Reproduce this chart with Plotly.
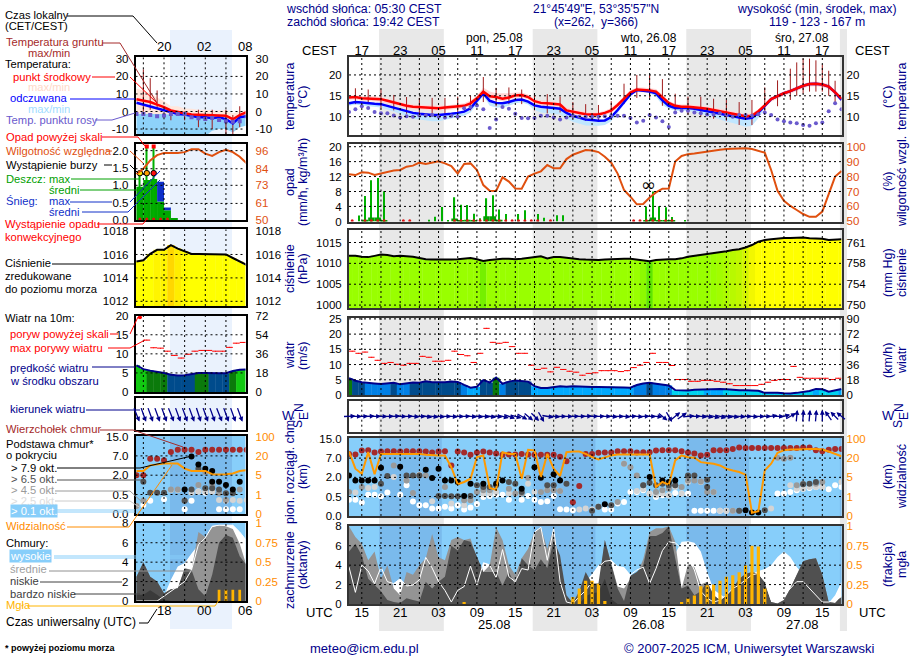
import math
import plotly.graph_objects as go

# ---- hours are counted from 24.08 00 UTC ----
hours = list(range(13, 91))
half_hours = [h + 0.5 for h in range(13, 90)]
left_hours = list(range(14, 31))

# --------------------------
# main panel data
# --------------------------
temp_mid = [14.6,14.7,14.4,14.3,14.3,14.2,13.8,13.4,13.0,12.6,
            12.4,12.3,12.2,12.1,12.0,12.2,12.3,12.5,12.6,13.2,
            14.4,16.0,14.9,14.7,14.3,14.6,15.1,15.2,14.7,13.7,
            13.3,13.2,13.0,12.9,11.5,11.2,10.9,10.6,10.5,10.5,
            10.9,11.5,12.8,14.3,15.8,16.5,16.4,16.3,16.0,14.7,
            13.3,12.6,12.4,12.4,12.3,12.1,11.9,11.6,11.3,11.0,
            10.8,10.4,10.1,10.2,11.3,12.7,14.2,14.9,15.6,16.1,
            16.7,17.4,17.8,17.9,17.7,17.2,15.8,14.3]
temp_max = [15.1,15.1,15.0,14.9,14.9,14.7,14.3,13.9,13.4,13.1,
            12.9,12.8,12.7,12.6,12.6,12.7,12.8,13.0,13.2,13.9,
            15.0,17.0,16.0,15.6,15.6,15.6,15.8,15.8,15.3,14.3,
            13.9,13.8,13.6,13.4,12.2,11.8,11.4,11.1,11.0,11.0,
            11.4,12.1,13.4,14.9,16.4,17.0,17.0,16.8,16.6,15.3,
            13.8,13.1,12.9,12.9,12.8,12.6,12.4,12.2,11.9,11.6,
            11.3,11.0,10.7,10.8,11.8,13.2,14.7,15.4,16.1,16.6,
            17.2,17.9,18.3,18.4,18.2,17.8,16.4,14.9]
temp_min = [14.0,14.1,13.8,13.7,13.7,13.6,13.2,12.8,12.4,12.0,
            11.8,11.7,11.6,11.5,11.4,11.6,11.7,11.9,12.0,12.6,
            13.8,15.3,14.2,14.0,13.7,14.0,14.5,14.6,14.1,13.1,
            12.7,12.6,12.4,12.3,10.9,10.6,10.3,10.0,9.9,9.9,
            10.3,10.9,12.2,13.7,15.2,15.9,15.8,15.7,15.4,14.1,
            12.7,12.0,11.8,11.8,11.7,11.5,11.3,11.0,10.7,10.4,
            10.1,9.7,9.4,9.5,10.6,12.1,13.6,14.3,15.0,15.5,
            16.1,16.8,17.2,17.3,17.1,16.6,15.2,13.6]
feels = [13.2,13.5,13.4,13.2,13.1,13.0,12.6,12.2,11.7,11.3,
         10.9,10.7,10.5,10.4,10.4,10.5,10.7,10.9,11.2,12.0,
         13.7,15.6,13.8,13.3,13.2,13.5,14.0,14.1,13.6,12.7,
         12.4,12.3,12.1,11.9,10.9,10.2,9.7,9.3,9.2,9.0,
         9.1,9.9,11.6,13.5,15.3,16.4,16.2,16.0,15.6,13.9,
         12.6,12.1,12.1,12.1,11.9,11.6,11.4,11.1,10.8,10.5,
         10.2,9.9,9.5,9.7,11.0,12.6,14.2,14.9,15.6,16.1,
         16.7,17.4,17.8,17.9,17.7,17.2,15.8,14.0]
feels_min = [12.6,12.9,12.7,12.5,12.3,12.2,11.7,11.2,10.7,10.1,
             9.6,9.3,9.1,8.9,8.9,9.2,9.5,9.8,10.2,11.0,
             13.0,15.0,12.6,12.2,12.2,12.6,13.2,13.4,12.9,11.6,
             11.0,10.9,10.7,10.5,9.5,8.8,8.3,7.9,7.8,7.8,
             8.0,8.9,10.9,13.0,15.0,16.2,16.0,15.6,14.8,12.8,
             11.9,11.4,11.4,11.4,11.1,10.7,10.3,9.9,9.3,8.8,
             8.5,8.0,7.6,7.8,9.6,12.0,14.0,14.9,15.6,16.1,
             16.7,17.4,17.8,17.9,17.7,17.2,15.8,13.8]
dew = [11.1,11.8,12.5,12.1,11.1,10.8,10.8,10.3,9.8,10.1,
       10.0,10.3,10.3,10.4,10.0,9.8,10.2,10.0,12.0,12.3,
       12.7,11.8,7.3,9.3,12.3,11.9,10.7,9.7,9.6,9.7,
       10.2,10.2,9.8,9.3,9.8,10.2,10.0,10.0,10.0,10.0,
       10.1,10.2,10.2,10.2,9.7,8.6,9.0,10.4,9.8,8.9,
       7.5,11.0,11.4,11.4,11.0,10.8,10.5,10.5,10.8,10.4,
       10.0,10.4,10.4,10.2,10.6,11.0,10.4,9.3,8.9,8.6,
       8.4,8.0,7.8,8.4,8.6,11.3,13.2,11.8]
ground_hours = [14,16,18,20,22,24,26,28,30,32,34,36,38,40,42,44,46,48,50,52,54,56,58,60,
                62,64,66,68,70,72,74,76,78,80,82,83,84,85,86,87,88,89]
ground_max = [16.8,16.5,16.5,15.2,14.7,14.5,14.5,14.5,14.8,15.0,19.5,16.9,17.0,16.5,15.5,15.4,14.8,13.5,13.0,12.8,
              13.7,17.9,20.0,20.0,19.0,15.5,14.8,14.8,14.3,14.0,13.5,14.0,17.0,18.7,21.5,23.0,23.9,23.9,23.5,22.5,21.0,18.6]
ground_min = [13.0,13.0,12.0,11.5,10.7,10.5,10.3,10.5,10.7,11.5,13.5,12.5,13.0,13.0,11.5,10.8,11.0,9.5,9.0,9.0,
              9.5,13.0,14.5,14.5,12.6,11.5,10.5,10.0,9.5,9.0,8.0,8.0,11.0,12.5,14.0,15.0,15.5,16.0,16.0,16.0,15.0,13.0]

rain_max_hours = [14.5,15.5,16.5,17.5,18.5,25.5,26.5,27.5,28.5,29.5,30.5,31.5,32.5,33.5,34.5,35.5,36.5,37.5,
                  39.5,40.5,42.5,43.5,45.5,46.5,59.5,60.5,61.5,62.5,63.5,65.5]
rain_max = [1.6,6.8,11,11.6,8.1,0.5,1.3,3.9,0.3,6.5,4.5,4.4,2.1,0.9,6.2,7,3.2,2,
            2,3,2,1,1.7,1.7,4,8,4.1,3.8,1.2,0.2]
rain_mean_hours = [15.5,16.5,17.5,18.5,29.5,30.5,31.5,32.5,34.5,35.5,36.5,59.5,60.5,61.5,62.5,63.5]
rain_mean = [0.5,1.1,1.1,0.4,0.8,0.3,0.5,0.2,1.4,1.4,0.5,0.2,1.1,0.3,0.4,0.2]
convective_hours = [13.5,15.5,16.5,17.5,18.5,21.5,22.5,29.5,30.5,31.5,32.5,33.5,34.5,35.5,36.5,37.5,
                    38.5,39.5,40.5,41.5,42.5,44.5,57.5,58.5,59.5,60.5,61.5,62.5,63.5]
humidity = [81.5,81,82.8,82.6,81,82,83.2,84,84.4,86.6,87.3,89.3,88.4,89.5,90.2,88.8,87,82,88.4,88.8,
            84.4,74.3,70.5,70.3,79.5,76.6,72,71.9,80,82,83.5,87.7,85.5,85.5,91.7,94.6,96.4,97.8,97.5,96.4,
            93.3,89.3,82,71,66.5,61.4,61.6,66,69.4,71.9,72,90,93.8,95,95.5,96.2,96.9,97.3,98,98.4,
            98.7,98.9,98.9,98.4,97.3,96,84.4,70.5,63.8,60.3,57.6,54.9,53,53,56.5,68.8,80,83.7]

pressure = [1011.8,1011.8,1011.6,1011.5,1011.8,1012.1,1012.0,1011.7,1011.8,1011.7,
            1011.6,1011.3,1011.0,1010.9,1010.9,1010.8,1010.9,1011.0,1011.1,1011.3,
            1011.0,1010.6,1010.8,1011.0,1011.1,1011.1,1011.0,1011.1,1011.3,1011.5,
            1011.7,1011.2,1011.5,1011.5,1011.3,1011.1,1011.0,1010.9,1010.8,1010.8,
            1010.9,1011.0,1011.1,1011.1,1011.1,1010.9,1010.7,1010.5,1010.8,1010.95,
            1011.0,1011.0,1011.2,1011.6,1011.8,1012.1,1012.2,1012.5,1012.7,1012.9,
            1013.2,1013.4,1013.8,1014.4,1015.2,1015.6,1015.8,1016.0,1016.1,1016.1,
            1016.2,1016.2,1016.0,1015.95,1015.9,1015.6,1015.7,1015.8]

wind = [5.5,4.7,4.2,3.9,3.8,3.6,3.8,4.0,3.5,3.7,4.1,4.0,4.5,4.2,4.1,4.2,4.4,4.3,3.3,2.4,
        2.7,4.9,4.1,5.7,3.7,4.4,4.8,4.7,4.4,2.9,2.3,2.3,2.7,2.9,2.7,2.9,2.8,2.6,2.6,2.6,
        2.6,2.7,2.6,2.5,2.4,3.3,3.8,4.0,3.7,3.5,3.1,1.6,1.5,1.5,1.75,1.8,2.0,2.0,2.0,1.9,
        1.7,1.6,1.6,1.6,1.4,0.7,0.8,0.7,0.55,0.5,0.7,1.1,1.3,2.0,1.9,1.1,1.6,2.0]
gust = [14.4,13.7,14.1,12.4,11.4,10.4,10.7,10.1,9.8,10.4,10.4,12.7,12.4,11.1,11.1,11.4,14.4,13.3,12.9,10.7,
        13.7,21.9,17.3,17,17.3,15.9,13.7,13.7,9.8,8.4,8.8,7.6,9.1,8.4,7.8,7.5,6.5,7.1,7.3,
        8,8,8,7.7,8,9,9.8,10.7,13.7,10.7,10.7,9.7,5.1,5.1,4.5,4.5,4.8,4.8,4.5,4.2,
        3.7,3.1,3.1,3.1,3.1,3.5,4.2,4.8,5.1,5.1,9.4,5.8,5.5,5.5,5.5,5.5,5.1,5.5]
# compass bearing the wind arrow points to
wind_dir = [88,92,90,88,90,92,90,88,92,90,
            95,92,100,98,95,92,95,92,90,95,
            95,95,100,95,105,110,105,120,130,135,
            150,100,95,92,92,90,90,88,90,90,
            92,95,92,95,90,95,90,92,95,130,
            150,50,55,85,90,95,100,105,105,100,
            100,95,92,95,92,90,80,90,75,60,
            5,5,5,5,0,-35,-45,-50]

# cloud heights are kept on the panel's stretched scale: 0, 0.5, 2, 7, 15 km are 0, 1, 2, 3, 4
cloud_top = [3.22,3.19,3.40,3.41,3.29,3.34,3.36,3.36,3.34,3.36,3.36,3.36,3.34,3.29,3.34,3.36,2.62,3.34,3.29,3.17,
             3.29,3.34,3.29,3.24,3.17,3.19,3.19,3.22,3.19,3.17,3.17,3.17,3.17,3.07,2.84,0.71,1.55,3.22,3.22,3.28,
             3.29,3.29,3.36,3.36,3.36,3.29,3.31,3.31,3.40,3.41,3.41,3.41,3.36,3.29,3.24,3.14,3.17,3.41,3.41,3.41,
             3.48,3.55,3.53,3.53,3.53,3.53,3.53,3.53,3.52,3.53,3.53,3.55,3.55,3.41,3.36,3.43,3.48,3.48]
base_79_hours = [13,14,15,16,17,18,21,25,26,27,28,29,30,31,32,34,36,37,40,42,43,45,46,53,60,62,63,64,75,76,77]
base_79 = [2.10,1.84,1.84,1.84,1.84,2.5,2.55,2.4,1.97,2.45,1.84,1.84,1.76,1.03,1.67,1.67,1.67,1.84,1.41,2.53,1.98,2.16,1.84,
           0.6,2.02,1.84,1.76,1.84,0.29,0.17,0.17]
base_65_hours = [18,19,22,23,24,27,28,29,30,32,33,34,35,36,38,39,40,44,45,47,51,52,54,59,60,61,62,63,64,66,67,69,69,74,78,84,85,86]
base_65 = [1.67,2.07,2.1,2.1,2.1,1.03,1.03,1.02,1.02,1.03,1.59,1.5,1.5,1.59,1.76,1.67,1.24,1.59,1.59,1.67,
           0.26,0.47,0.55,1.59,1.72,1.59,1.67,1.59,1.59,2.1,2.1,1.88,1.5,0.26,0.29,1.64,1.67,1.76]
base_45_hours = [13,15,20,22,23,24,25,28,31,32,33,34,35,38,39,40,41,43,44,45,46,52,55,56,57,58,59,61,62,63,64,65,66,67,68,69,70,73,74,80,81,82,83,84,86,87]
base_45 = [1.24,1.5,2.62,1.84,1.19,2.1,2.1,1.5,0.81,0.81,1.24,1.33,1.33,1.41,1.16,1.16,1.98,1.24,1.33,1.33,1.29,
           0.47,0.72,2.71,2.53,2.1,1.59,1.24,1.33,1.41,1.59,1.5,1.84,1.84,1.79,1.24,1.24,0.26,0.26,3.02,2.97,3.02,1.59,1.67,1.67,1.76]
base_25_hours = [14,16,17,20,22,24,26,29,31,32,34,35,36,38,41,42,44,46,49,50,51,52,56,58,59,60,61,62,63,64,65,66,68,70,71,72,73,79,80,82,83,84,85,86,87,90]
base_25 = [1.21,1.45,1.5,2.02,1.84,2.14,0.76,0.64,0.55,0.81,1.16,1.16,1.24,1.16,1.67,1.24,1.36,1.29,0.33,0.38,0.33,0.47,
           2.71,1.29,1.38,1.16,1.07,1.16,1.07,1.5,1.16,1.76,1.76,1.24,0.26,0.26,0.26,0.38,3.02,1.59,1.41,1.41,1.5,1.5,1.5,1.76]
base_01_hours = [13,14,15,16,17,18,19,21,22,23,24,25,26,27,28,29,30,31,32,33,34,35,36,37,38,39,40,41,42,43,44,45,46,47,48,
                 53,54,55,56,57,58,59,60,61,62,63,64,65,66,67,68,69,70,71,72,80,81,82,83,84,85,86,87,88,89,90]
base_01 = [0.84,0.84,0.69,1.1,1.1,1.02,1.21,1.1,1.59,0.74,0.55,0.55,0.38,0.38,0.47,0.38,0.55,0.33,0.43,0.62,0.98,1.03,1.1,1.1,0.84,1.16,0.84,1.03,0.84,0.72,0.76,1.03,0.34,0.33,0.29,
           0.33,0.33,0.64,0.72,1.24,1.24,1.33,1.16,0.98,1.07,1.07,1.19,1.16,1.16,0.26,0.26,0.26,0.26,0.26,0.26,1.16,1.16,1.24,1.33,1.41,1.45,1.5,1.5,1.38,1.59,1.5]
visibility = [3.34,2.45,2.19,3.31,2.16,3.22,3.22,3.22,3.22,3.22,3.22,3.22,3.17,3.14,3.14,3.14,2.53,1.64,1.76,1.93,
              3.05,3.14,1.45,1.36,3.31,3.22,3.22,1.93,3.43,3.40,2.02,3.22,2.45,2.07,3.31,3.34,3.34,3.22,3.05,2.93,
              3.05,3.14,3.19,3.19,3.19,3.19,3.19,3.19,1.5,1.76,1.62,2.88,3.14,3.05,3.02,2.79,2.74,2.71,2.62,2.45,
              2.36,2.28,2.14,0.16,0.24,2.36,2.71,3.28,3.41,3.45,3.45,3.48,3.48,3.48,3.45,3.34,3.22,3.1]

cloud_high = [0,0,0,0,0,0,0,2.1,2.6,1.7,0,0,0,0,0,0,0,0,0,0,
              0,4.3,4.1,0,0,0,0,0,0,0,0,0,0,0,0,0,0.4,2.3,3.1,4.0,
              4.4,4.5,3.9,3.8,3.0,1.8,1.5,1.0,0.5,1.5,3.0,5.2,6.4,6.45,6.3,5.4,3.3,1.5,1.0,0.6,
              0.5,0.6,1.3,3.1,3.4,3.6,4.0,4.85,5.4,4.85,3.8,3.0,2.0,0.9,0.2,0.1,0.9,2.3]
high_line = [3.8,1.2,4,3.4,2.1,3.8,2.3,2.1,2.6,1.85,1.95,2.5,4.8,3.7,2.3,1.4,0.2,1.4,1.8,3.9,
             1.95,4.2,4,2.7,5.6,2.8,2.3,3.65,3.5,7.4,7.9,4.5,7.8,2.3,0.2,0.05,0.75,1.4,2.3,3.8,
             4.4,4.5,3.65,2.3,3,3.5,3.8,2.1,3.65,5.5,6.4,6.3,5.7,4.85,3.5,1.3,0.6,0.2,0.4,0.9,
             1.6,1.95,2.5,3,3.15,2.3,0.4,0.17,0.9,1.6,2.3,2.3,1.6,0.9,0.2,0.2,0.4,0.75]
cloud_mid = [8,6.9,6.2,4.5,5.4,2.6,4,1.6,0.9,3.3,3,4,4.7,7.2,4.8,4.5,6.6,6.9,6.6,6.75,
             4.7,3.3,4,7.9,6.6,4,3,4.7,5.7,7.4,7.9,5.7,7.8,3.3,0.2,0,0,1,1.2,1.2,
             6.6,4.1,1.8,1.6,2.6,3,4.6,7.4,7.8,7.8,8,6.4,1.6,4.1,3.8,2,2.3,0.9,0.4,0.9,
             1.6,2.6,3.1,3.3,3.1,2.3,0.2,0.05,0.4,1.6,3,4.4,4.6,4.7,3,0.2,0.1,0.8]
cloud_low = [5.4,6.2,5,2.6,1.95,1.3,0.4,0.2,0.1,0.6,0.4,0.25,2.3,1.6,2.3,2.8,6,5.5,6.6,6.4,
             4.9,3.3,3.3,3.3,1.9,3.3,1.9,4.7,4,3.5,4.6,3.7,6.6,5,0.9,0.1,1.3,3.3,2.1,2.1,
             6.6,4,1.6,0.3,2.9,3.3,4,7,7,7.3,8,4.7,1.6,1.9,0.9,1.3,2.3,0.9,0.4,0.9,
             1.6,2.6,3.1,3.3,3.1,2.3,0.2,0.05,0.4,1.6,3,4.4,4.6,4.7,3,0.2,0.1,0.8]
cloud_vlow = [0,0,0,0,0,0,0,0,0,0,0,0,0,0,0,0,0,0,0,0,
              0,0,0,0,0,0,0,0,0,0,0,0,0,0,0,0,0,0.8,1.1,1.2,
              2.6,0.5,0,0,0,0,0,0,0,0,0,0,0,0,0,0,0,0,0,0,
              0,0,0,0,0,0,0,0,0,0,0,0,0,0,0,0,0,0]
fog_hours = [31,48,49,50,51,52,53,65,66,67,68,69,70,71,72,73,74,75,76,77,78]
fog = [0.02,0.09,0.2,0.3,0.3,0.26,0.04,0.02,0.07,0.11,0.23,0.24,0.25,0.3,0.35,0.37,0.41,0.5,0.75,0.74,0.2]

# --------------------------
# left (legend) panel data
# --------------------------
left_temp = [7,6.4,5.4,3.9,2.5,0.6,-0.4,-1,-1.7,-1.9,-2.1,-2.3,-2.3,-2.4,-4.4,-2,-0.3]
left_feels = [5,4,3,2,0.6,-0.4,-1.4,-1.7,-2.3,-3.3,-3.3,-3.7,-3.3,-4.3,-6.8,-3.3,-2.7]
left_temp_max = [13,12,10.5,8,6,3,3,1.7,1.5,1,1,0.5,0.5,0.5,-1,0,1]
left_band_mid = [-1.2,-1.2,-1.3,-1.4,-1.4,-1.5,-2,-2,-2.5,-3.3,-3.3,-3.7,-3.3,-4.3,-6.8,-3.3,-2.7]
left_feels_min = [-14,-14,-14,-14,-14,-14,-14,-13,-13,-14,-14,-11,-10,-10,-12,-9,-8]
left_dew = [-1.4,-1.4,-2,-2.7,-2.3,-1.4,-1.4,-1.4,-3.3,-3.9,-4.3,-3.7,-4.9,-5.6,-5.8,-5.6,-2.7]
left_ground_hours = [15,16,17,19,21,23,25,27,28,29]
left_ground_max = [24,19,12,0,0,1,1,1,-2,3]
left_ground_min = [0,1,2,-5,-5,-9,-10,-13,-13,-9]

left_humidity = [80.5,84,89.5,93,94.5,94.5,94.5,95,97,97,94,92.5,95,96.5,95,92,87.6]
left_rain_hours = [14.5,15.5,16.5,17.5,18.5,19.5]
left_rain = [0.96,1.15,1.18,0.53,0.28,0.04]
left_snow = [0,0,0,0.57,0.08,0]
left_rain_max_hours = [14.5,15.5,16.5]
left_rain_max = [1.35,2.12,2.12]
left_over_hours = [15.5,16.5]
left_over = [2.12,2.12]
left_storm_hours = [14.5,15.5,16.5]
left_storm = [1.35,1.35,1.35]
left_convective = [14.5,15.5,16.5,17.5,18.5]

left_pressure = [1015.4,1015.5,1016.05,1016.4,1016.4,1016.8,1016.5,1016.3,1016.05,1016.05,1016.05,1016.05,1016.05,1016,1015.7,1015.4,1015.1]
left_wind = [7,6,5.6,5.3,5.0,4.5,4.3,4.4,4.7,5,5,4.9,4.9,4.9,5.5,5.8,5.9]
left_gust_hours = [15.5,16.5,17.5,18.5,19.5,20.5,21.5,22.5,23.5,24.5,25.5,26.5,27.5,28.5,29.5]
left_gust = [13.6,11.6,11.5,10.7,9.6,8.9,9.9,10.7,10.9,10.9,10.7,10.7,11.7,12.8,13]
left_dir = [158,160,160,160,160,158,160,160,160,162,160,160,158,160,160,160,155]

left_top = [2,2,2.85,2.85,2.77,3.2,3.32,3.32,3.32,3.2,3.32,3.32,3.32,3.32,3.32,3.32,3.32]
left_79_hours = [21,22,23,24,25,25,26,27,28,29]
left_79 = [1.26,2.97,2.56,2.34,2.22,1.66,1.66,1.49,1.26,1.66]
left_65_hours = [15,16,17,18,21,22,23,24,25,26,27,28]
left_65 = [1.66,1.09,1.09,1.09,0.68,1.26,2.34,1.32,1.32,1.26,1.06,1.06]
left_45_hours = [14,15,19,20,21,23,24,25,26,27,29]
left_45 = [0.41,0.68,1.26,1.26,0.68,1.49,2.17,1.49,1.06,0.72,1.26]
left_25_hours = [14,19,20,22,23,24,25,26,27,28,29,30]
left_25 = [0.41,1.23,1.23,1.09,1.15,1.15,1.15,0.72,0.68,0.72,0.68,0.72]
left_01_hours = [15,16,18,21,22,23,24,25,26,27,28,29]
left_01 = [0.46,0.68,0.75,0.24,0.68,1.15,1.09,1.15,0.24,0.24,0.24,0.24]
left_vis = [2.22,2.22,2.51,2.55,2.6,2.6,2.6,2.34,2.22,2.22,2.22,2.05,2.03,2.05,2.09,2.22,2.26]

left_high = [0,0,0,0,0.5,2.2,3.55,3.9,4.9,5.8,6.5,7.7,7.8,7.8,7.8,7.1,6.2]
left_high_line = [0,0,0,0,0.5,1,1.5,2,3.2,5.8,6.5,7.7,7.8,7.8,7.8,7.1,6.2]
left_mid = [2.5,4,2.5,2,0.8,1.2,1.3,3.4,3.2,7.1,6.6,7.6,7.8,7.7,7.4,5.9,3.6]
left_low = [2.5,4,2.5,2,0.8,1.2,1.3,3.3,3.2,1.2,0.5,2.7,6,6.8,6.5,4.6,3.7]
left_vlow = [0.65,0.65,1.1,0.65,0.1,0,0,0,0,0,0,0,0,0,0,0,0]
left_fog_hours = [26,27,28,29]
left_fog = [0.145,0.145,0.145,0.145]

# axis labels
main_grid_hours = list(range(15, 88, 3))
main_label_hours = list(range(15, 88, 6))
cest_labels = ["17","23","05","11"] * 3 + ["17"]
utc_labels = ["15","21","03","09"] * 3 + ["15"]
left_grid_hours = [15, 18, 21, 24, 27]
nights = [(17.7, 27.5), (41.7, 51.5), (65.7, 75.5), (89.7, 90.5)]

NAVY = "#00008b"
FONT = "Liberation Sans"
HUM = "#e0500f"
VIS = "#ff8c00"
CLOUD_BG = "#87cefa"
CLOUD_NIGHT = "#7abaec"
LBL = 11.2


def X(px):
    return px / 910


def Y(px):
    return 1 - px / 660


fig = go.Figure()
layout = {}
shapes = []
notes = []


# one panel = a bottom x axis, a left y axis and an overlaying right y axis
def panel(i, box, xrange, lrange, lticks, ltext, rrange, rticks, rtext, rcolor="black",
          xticks=None, xtext=None, xside="bottom", frame="black", fw=1.5, standoff=(4, 5), size=11.5):
    x0, x1, top, bottom = box
    a = 2 * i - 1
    b = 2 * i
    layout[f"xaxis{i}"] = dict(domain=[X(x0), X(x1)], range=xrange, anchor=f"y{a}", side=xside, automargin=False,
                               showgrid=False, zeroline=False, showline=True, mirror=True,
                               linecolor=frame, linewidth=fw, ticks="",
                               tickmode="array", tickvals=xticks or [], ticktext=xtext or [],
                               showticklabels=bool(xticks), ticklabelstandoff=-5,
                               tickfont=dict(family=FONT, size=13, color="black"))
    layout[f"yaxis{a}"] = dict(domain=[Y(bottom), Y(top)], range=lrange, anchor=f"x{i}", automargin=False,
                               showgrid=False, zeroline=False, showline=True, mirror=True,
                               linecolor=frame, linewidth=fw, ticks="",
                               tickmode="array", tickvals=lticks, ticktext=ltext,
                               ticklabelstandoff=standoff[0],
                               tickfont=dict(family=FONT, size=size, color="black"))
    layout[f"yaxis{b}"] = dict(domain=[Y(bottom), Y(top)], range=rrange, anchor=f"x{i}", automargin=False,
                               overlaying=f"y{a}", side="right", showgrid=False, zeroline=False,
                               showline=False, ticks="", tickmode="array", tickvals=rticks,
                               ticktext=rtext, ticklabelstandoff=standoff[1],
                               tickfont=dict(family=FONT, size=size, color=rcolor))
    return dict(xaxis=f"x{i}", yaxis=f"y{a}"), dict(xaxis=f"x{i}", yaxis=f"y{b}")


def grid(refs, xvals, xspan, yvals, yspan):
    gx, gy = [], []
    for v in xvals:
        gx += [v, v, None]
        gy += [yspan[0], yspan[1], None]
    for v in yvals:
        gx += [xspan[0], xspan[1], None]
        gy += [v, v, None]
    fig.add_trace(go.Scatter(x=gx, y=gy, mode="lines", hoverinfo="skip",
                             line=dict(color="black", width=1, dash="2px,3px"), **refs))


def txt(x, y, s, color="black", size=LBL, anchor="left", angle=0, bg=None):
    notes.append(dict(xref="paper", yref="paper", x=X(x), y=Y(y), text=s, showarrow=False,
                      xanchor=anchor, yanchor="middle", textangle=angle, borderpad=0,
                      bgcolor=bg, font=dict(family=FONT, size=size, color=color)))


def link(points, color, width=1):
    path = "M " + " L ".join(f"{X(px)} {Y(py)}" for px, py in points)
    shapes.append(dict(type="path", xref="paper", yref="paper", path=path,
                       line=dict(color=color, width=width), layer="above"))


def rect(x0, y0, x1, y1, color):
    shapes.append(dict(type="rect", xref="paper", yref="paper", x0=X(x0), x1=X(x1), y0=Y(y0), y1=Y(y1),
                       fillcolor=color, line=dict(width=0), layer="below"))


def wind_color(v):
    if v >= 5.8:
        return "#11c911"
    if v >= 5:
        return "#0b7a0b"
    if v >= 4:
        return "#004b8c"
    if v >= 3:
        return "#0080e6"
    if v >= 2:
        return "#00aaff"
    return "#00d4f0"


pressure_scale = [[0, "#5ee600"], [0.04, "#99ff00"], [0.31, "#99ff00"], [0.45, "#c0f800"],
                  [0.58, "#e6f000"], [0.64, "#ffff00"], [0.9, "#ffff00"], [1, "#ffd000"]]


def pressure_bars(hrs, vals, refs):
    fig.add_trace(go.Bar(x=hrs, y=vals, width=1.05, marker=dict(color=vals, colorscale=pressure_scale,
                  cmin=1010.5, cmax=1016.9, line=dict(width=0)), **refs))
    fig.add_trace(go.Scatter(x=hrs, y=vals, mode="lines", line=dict(color="black", width=2), **refs))


def band(hrs, low, high, color, refs):
    fig.add_trace(go.Scatter(x=hrs, y=low, mode="lines", line=dict(width=0), **refs))
    fig.add_trace(go.Scatter(x=hrs, y=high, mode="lines", line=dict(width=0), fill="tonexty",
                             fillcolor=color, **refs))


def area(hrs, vals, color, refs):
    fig.add_trace(go.Scatter(x=hrs, y=vals, mode="lines", line=dict(width=0, color=color),
                             fill="tozeroy", fillcolor=color, **refs))


def dots(hrs, vals, color, refs, size=6):
    fig.add_trace(go.Scatter(x=hrs, y=vals, mode="markers", marker=dict(color=color, size=size), **refs))


def ticks_bars(hrs, low, high, color, refs, width=1):
    xs, ys = [], []
    for h, a, b in zip(hrs, low, high):
        xs += [h, h, None]
        ys += [a, b, None]
    fig.add_trace(go.Scatter(x=xs, y=ys, mode="lines", line=dict(color=color, width=width), **refs))


def arrows(hrs, bearings, i, length):
    for h, b in zip(hrs, bearings):
        dx = math.sin(math.radians(b))
        dy = math.cos(math.radians(b))
        notes.append(dict(xref=f"x{i}", yref=f"y{2 * i - 1}", x=h, y=0, text="", showarrow=True,
                          xshift=length / 2 * dx, yshift=length / 2 * dy,
                          ax=-length * dx, ay=length * dy,
                          arrowhead=2, arrowsize=0.75, arrowwidth=1.3, arrowcolor=NAVY))


# --------------------------
# background: night bands and cloud panel fill
# --------------------------
def main_px(h):
    return 349 + 6.4 * (h - 13)


for a, b in nights:
    rect(main_px(a), 29, main_px(b) + 2, 631, "#e8e8e8")
rect(170, 30, 232, 629, "#eaf2fd")
for top, bottom in [(438, 516), (526, 604)]:
    rect(349, top, 841.5, bottom, CLOUD_BG)
    for a, b in nights:
        rect(main_px(a), top, min(main_px(b), 841.5), bottom, CLOUD_NIGHT)
for top, bottom in [(436, 514), (523, 601)]:
    rect(135.5, top, 245.5, bottom, CLOUD_BG)
    rect(170, top, 232, bottom, CLOUD_NIGHT)

# --------------------------
# main panels
# --------------------------
MX = [13, 90]
LX = [13.86, 29.84]
MAIN = dict(frame="#333333", fw=2, standoff=(3, 4), size=11.5)
LEFT = dict(frame="black", fw=1.5, standoff=(3, 9), size=11.5)

# temperature
l, r = panel(1, (349, 841.5, 57, 135), MX, [5.6, 24.3], [10, 15, 20], ["10", "15", "20"],
             [5.6, 24.3], [10, 15, 20], ["10", "15", "20"],
             xticks=main_label_hours, xtext=cest_labels, xside="top", **MAIN)
band(hours, feels_min, feels, "#bfe6ff", l)
band(hours, temp_min, temp_max, "#ffd6d6", l)
ticks_bars(ground_hours, ground_min, ground_max, "#a01c1c", l)
fig.add_trace(go.Scatter(x=hours, y=feels, mode="lines", line=dict(color="#0000ff", width=2.5), **l))
fig.add_trace(go.Scatter(x=hours, y=temp_mid, mode="lines", line=dict(color="#ff0000", width=2.5), **l))
dots(hours, dew, "#6a5acd", l, size=4)

# precipitation and humidity
l, r = panel(2, (349, 841.5, 144, 221.5), MX, [0, 20.7], [0, 4, 8, 12, 16, 20],
             ["0", "4", "8", "12", "16", "20"], [49.9, 101.8], [50, 60, 70, 80, 90, 100],
             ["50", "60", "70", "80", "90", "100"], rcolor=HUM, **MAIN)
fig.add_trace(go.Bar(x=rain_max_hours, y=rain_max, width=0.18, marker=dict(color="#00b000", line=dict(width=0)), **l))
fig.add_trace(go.Bar(x=rain_mean_hours, y=rain_mean, width=1, marker=dict(color="#00a000", line=dict(width=0)), **l))
dots(convective_hours, [0.2] * len(convective_hours), "#e01010", l, size=3)
fig.add_trace(go.Scatter(x=hours, y=humidity, mode="lines", line=dict(color=HUM, width=2), **r))
notes.append(dict(xref="x2", yref="y3", x=59.9, y=10, text="∞", showarrow=False,
                  font=dict(family="DejaVu Sans", size=18, color="black")))

# pressure (the right axis only relabels the same ticks in mm Hg)
l, r = panel(3, (349, 841.5, 230, 308), MX, [999.3, 1018], [1000, 1005, 1010, 1015],
             ["1000", "1005", "1010", "1015"], [999.3, 1018], [1000, 1005, 1010, 1015],
             ["750", "754", "758", "761"], **MAIN)
pressure_bars(hours, pressure, l)

# wind
l, r = panel(4, (349, 841.5, 317.7, 395), MX, [0, 25.4], [0, 5, 10, 15, 20, 25],
             ["0", "5", "10", "15", "20", "25"], [0, 91.4], [0, 18, 36, 54, 72, 90],
             ["0", "18", "36", "54", "72", "90"], **MAIN)
fig.add_trace(go.Bar(x=hours, y=wind, width=1.05, marker=dict(color=[wind_color(v) for v in wind], line=dict(width=0)), **l))
fig.add_trace(go.Scatter(x=hours, y=wind, mode="lines", line=dict(color="#00008b", width=2), **l))
fig.add_trace(go.Scatter(x=half_hours, y=gust, mode="markers", marker=dict(size=1, color="#ff0000"),
                         error_x=dict(type="constant", value=0.5, color="#ff0000", thickness=1, width=0), **l))

# wind direction
l, r = panel(5, (349, 841.5, 401, 431.7), MX, [-1, 1], [], [], [-1, 1], [], [], **MAIN)
arrows(hours, wind_dir, 5, 13)

# cloud base, tops and visibility
stretched = [0, 1, 2, 3, 4]
l, r = panel(6, (349, 841.5, 438.3, 516), MX, [-0.01, 4.03], stretched, ["0.0", "0.5", "2.0", "7.0", "15.0"],
             [-0.01, 4.03], stretched, ["0", "1", "5", "20", "100"], rcolor=VIS, **MAIN)
dots(base_01_hours, base_01, "white", l)
dots(base_25_hours, base_25, "#d4d4d4", l)
dots(base_45_hours, base_45, "#9a9a9a", l)
dots(base_65_hours, base_65, "#505050", l)
dots(base_79_hours, base_79, "black", l)
dots(hours, cloud_top, "#a52a2a", l)
fig.add_trace(go.Scatter(x=hours, y=visibility, mode="lines", line=dict(color="#ff9900", width=2), **r))

# cloud cover and fog
l, r = panel(7, (349, 841.5, 526, 604), MX, [0, 8.03], [0, 2, 4, 6, 8], ["0", "2", "4", "6", "8"],
             [0, 1.004], [0, 0.25, 0.5, 0.75, 1], ["0", "0.25", "0.5", "0.75", "1"], rcolor=VIS,
             xticks=main_label_hours, xtext=utc_labels, **MAIN)
area(hours, cloud_high, "white", l)
area(hours, cloud_mid, "#949494", l)
area(hours, cloud_low, "#505050", l)
area(hours, cloud_vlow, "#3a3a3a", l)
fig.add_trace(go.Scatter(x=hours, y=high_line, mode="lines", line=dict(color="white", width=1), **l))
fig.add_trace(go.Bar(x=fog_hours, y=fog, width=0.5, marker=dict(color="#ffb400", line=dict(width=0)), **r))

# --------------------------
# left legend panels
# --------------------------
l, r = panel(8, (135.5, 245.5, 57.3, 134.3), LX, [-13, 30.9], [-10, 0, 10, 20, 30], ["-10", "0", "10", "20", "30"],
             [-13, 30.9], [-10, 0, 10, 20, 30], ["-10", "0", "10", "20", "30"], **LEFT)
band(left_hours, left_feels_min, left_band_mid, "#8ed2fa", l)
band(left_hours, left_band_mid, left_temp_max, "#ffe6dc", l)
ticks_bars(left_ground_hours, left_ground_min, left_ground_max, "#a01c1c", l)
fig.add_trace(go.Scatter(x=left_hours, y=left_feels, mode="lines", line=dict(color="#0000ff", width=2.5), **l))
fig.add_trace(go.Scatter(x=left_hours, y=left_temp, mode="lines", line=dict(color="#ff0000", width=2.5), **l))
fig.add_trace(go.Scatter(x=left_hours, y=left_dew, mode="markers", marker=dict(color="#6a5acd", size=4, symbol="square"), **l))

l, r = panel(9, (135.5, 245.5, 144, 220), LX, [0, 2.19], [0, 0.5, 1, 1.5, 2], ["0.0", "0.5", "1.0", "1.5", "2.0"],
             [50, 100.4], [50, 61, 73, 84, 96], ["50", "61", "73", "84", "96"], rcolor=HUM, **LEFT)
fig.add_trace(go.Bar(x=left_rain_hours, y=left_rain, width=1.02, marker=dict(color="#00a800", line=dict(width=0)), **l))
fig.add_trace(go.Bar(x=left_rain_hours, y=left_snow, base=left_rain, width=1, marker=dict(color="#1030c8", line=dict(width=0)), **l))
fig.add_trace(go.Bar(x=left_rain_max_hours, y=left_rain_max, width=0.16, marker=dict(color="#00b000", line=dict(width=0)), **l))
fig.add_trace(go.Scatter(x=left_over_hours, y=left_over, mode="markers", marker=dict(color="#ff0000", size=4, symbol="square"), **l))
fig.add_trace(go.Scatter(x=left_storm_hours, y=left_storm, mode="markers",
                         marker=dict(color=["#ffe000", "#ff9c00", "#ff1010"], size=5.5, line=dict(color="black", width=1)), **l))
dots(left_convective, [0.03] * len(left_convective), "#e01010", l, size=3)
fig.add_trace(go.Scatter(x=left_hours, y=left_humidity, mode="lines", line=dict(color=HUM, width=2), **r))

l, r = panel(10, (135.5, 245.5, 229.3, 306), LX, [1011.6, 1018.15], [1012, 1014, 1016, 1018], ["1012", "1014", "1016", "1018"],
             [1011.6, 1018.15], [1012, 1014, 1016, 1018], ["1012", "1014", "1016", "1018"], **LEFT)
pressure_bars(left_hours, left_pressure, l)

l, r = panel(11, (135.5, 245.5, 315.7, 392), LX, [0, 20], [0, 5, 10, 15, 20], ["0", "5", "10", "15", "20"],
             [0, 72], [0, 18, 36, 54, 72], ["0", "18", "36", "54", "72"], **LEFT)
fig.add_trace(go.Bar(x=left_hours, y=left_wind, width=1.05, marker=dict(color=[wind_color(v) for v in left_wind], line=dict(width=0)), **l))
fig.add_trace(go.Scatter(x=left_hours, y=left_wind, mode="lines", line=dict(color="#00008b", width=2), **l))
fig.add_trace(go.Scatter(x=left_gust_hours, y=left_gust, mode="markers", marker=dict(size=1, color="#ff0000"),
                         error_x=dict(type="constant", value=0.5, color="#ff0000", thickness=1, width=0), **l))
fig.add_trace(go.Scatter(x=[14.5], y=[19.6], mode="markers", marker=dict(color="#ff0000", size=4), **l))

l, r = panel(12, (135.5, 245.5, 398.3, 430), LX, [-1, 1], [], [], [-1, 1], [], [], **LEFT)
arrows(left_hours, left_dir, 12, 16)

l, r = panel(13, (135.5, 245.5, 436, 514), LX, [-0.01, 4.03], stretched, ["0.0", "0.5", "2.0", "7.0", "15.0"],
             [-0.01, 4.03], stretched, ["0", "1", "5", "20", "100"], rcolor=VIS, **LEFT)
dots(left_01_hours, left_01, "white", l)
dots(left_25_hours, left_25, "#d4d4d4", l)
dots(left_45_hours, left_45, "#9a9a9a", l)
dots(left_65_hours, left_65, "#505050", l)
dots(left_79_hours, left_79, "black", l)
dots(left_hours, left_top, "#a52a2a", l)
fig.add_trace(go.Scatter(x=left_hours, y=left_vis, mode="lines", line=dict(color="#ff9900", width=2), **r))

l, r = panel(14, (135.5, 245.5, 523, 601), LX, [0, 8.03], [0, 2, 4, 6, 8], ["0", "2", "4", "6", "8"],
             [0, 1.004], [0, 0.25, 0.5, 0.75, 1], ["0", "0.25", "0.5", "0.75", "1"], rcolor=VIS, **LEFT)
area(left_hours, left_high, "white", l)
area(left_hours, left_mid, "#949494", l)
area(left_hours, left_low, "#505050", l)
area(left_hours, left_vlow, "#3a3a3a", l)
fig.add_trace(go.Scatter(x=left_hours, y=left_high_line, mode="lines", line=dict(color="white", width=1), **l))
fig.add_trace(go.Bar(x=left_fog_hours, y=left_fog, width=0.4, marker=dict(color="#ffb400", line=dict(width=0)), **r))

# dotted grid goes over everything, on each panel's right axis
right_grid = {1: [10, 15, 20], 2: [60, 70, 80, 90, 100], 3: [1000, 1005, 1010, 1015], 4: [18, 36, 54, 72, 90],
              5: [], 6: [1, 2, 3], 7: [0.25, 0.5, 0.75],
              8: [-10, 0, 10, 20], 9: [61, 73, 84, 96], 10: [1012, 1014, 1016], 11: [18, 36, 54],
              12: [], 13: [1, 2, 3], 14: [0.25, 0.5, 0.75]}
for i, yvals in right_grid.items():
    refs = dict(xaxis=f"x{i}", yaxis=f"y{2 * i}")
    span = layout[f"yaxis{2 * i}"]["range"]
    if i <= 7:
        grid(refs, main_grid_hours, MX, yvals, span)
    else:
        grid(refs, left_grid_hours, LX, yvals, span)

# --------------------------
# header, footer, axis titles
# --------------------------
txt(363.5, 9, "wschód słońca: 05:30 CEST", NAVY, size=12.3, anchor="center")
txt(363.5, 22, "zachód słońca: 19:42 CEST", NAVY, size=12.3, anchor="center")
txt(596, 9, "21°45'49\"E, 53°35'57\"N", NAVY, size=12, anchor="center")
txt(596, 22, "(x=262,  y=366)", NAVY, size=12, anchor="center")
txt(817, 9, "wysokość (min, środek, max)", NAVY, size=12.3, anchor="center")
txt(817, 22, "119 - 123 - 167 m", NAVY, size=12.3, anchor="center")
for cx, d1, d2 in [(495, "pon, 25.08", "25.08"), (648, "wto, 26.08", "26.08"), (802, "śro, 27.08", "27.08")]:
    txt(cx, 38, d1, size=12, anchor="center")
    txt(cx, 624, d2, anchor="center", size=13)
txt(319, 50, "CEST", anchor="center", size=13)
txt(872, 50, "CEST", anchor="center", size=13)
txt(319, 612, "UTC", anchor="center", size=13)
txt(872, 612, "UTC", anchor="center", size=13)
txt(364, 648, "meteo@icm.edu.pl", NAVY, size=13, anchor="center")
txt(749, 648, "© 2007-2025 ICM, Uniwersytet Warszawski", NAVY, size=13, anchor="center")

for cy, a, b in [(97, "temperatura", "(°C)"), (182, "opad", "(mm/h, kg/m³/h)"), (269, "ciśnienie", "(hPa)"),
                 (356, "wiatr", "(m/s)")]:
    txt(290, cy, a, NAVY, size=12.5, anchor="center", angle=-90)
    txt(303, cy, b, NAVY, size=12.5, anchor="center", angle=-90)
txt(290, 470, "pion. rozciągł. chm.", NAVY, size=12.5, anchor="center", angle=-90)
txt(303, 477, "(km)", NAVY, size=12.5, anchor="center", angle=-90)
txt(290, 570, "zachmurzenie", NAVY, size=12.5, anchor="center", angle=-90)
txt(303, 565, "(oktanty)", NAVY, size=12.5, anchor="center", angle=-90)
for cy, a, b in [(97, "(°C)", "temperatura"), (182, "(%)", "wilgotność wzgl."), (273, "(mm Hg)", "ciśnienie"),
                 (361, "(km/h)", "wiatr"), (477, "(km)", "widzialność"), (565, "(frakcja)", "mgła")]:
    txt(888, cy, a, NAVY, size=12.5, anchor="center", angle=-90)
    txt(902, cy, b, NAVY, size=12.5, anchor="center", angle=-90)
for cx in (288, 888):
    txt(cx, 415, "W", NAVY, anchor="center", size=13)
    txt(cx + 11, 408, "N", NAVY, anchor="center", size=12, angle=-90)
    txt(cx + 16, 416, "E", NAVY, anchor="center", size=12, angle=-90)
    txt(cx + 10, 424, "S", NAVY, anchor="center", size=12, angle=-90)

# --------------------------
# left column labels and leader lines
# --------------------------
for cx, a, b in [(164, "20", "18"), (204, "02", "00"), (245, "08", "06")]:
    txt(cx, 47, a, anchor="center", size=13)
    txt(cx, 610, b, anchor="center", size=13)

RED = "#ff0000"
BROWN = "#a52a2a"
GREEN = "#00a000"
BLUE = "#1030c8"
txt(4, 15, "Czas lokalny")
txt(4, 26, "(CET/CEST)")
link([(67, 16), (133, 16), (157, 43)], "black")
txt(5, 42, "Temperatura gruntu", BROWN)
txt(27, 53, "max/min", BROWN)
link([(102, 43), (120, 43), (157, 103)], BROWN)
txt(4, 64, "Temperatura:")
txt(12, 77, "punkt środkowy", RED)
link([(92, 77), (115, 77)], RED)
link([(130, 77), (157, 103)], RED)
txt(27, 87, "max/min", "#ffd8c8")
txt(9, 98, "odczuwana", "#0000ff")
link([(70, 99), (135, 99)], "#0000ff")
txt(27, 109, "max/min", "#9fdcff")
txt(5, 120, "Temp. punktu rosy", "#6a5acd")
link([(95, 120), (112, 120), (135, 113)], "#6a5acd")
txt(5, 137, "Opad powyżej skali", RED)
link([(102, 137), (138, 137), (145, 146)], RED)
txt(5, 151, "Wilgotność względna", HUM)
link([(106, 151), (112, 151)], HUM)
link([(130, 151), (143, 163)], HUM)
txt(5, 165, "Wystąpienie burzy")
link([(104, 165), (112, 165)], "black")
link([(130, 165), (138, 173)], "black")
txt(5, 179, "Deszcz: max", GREEN)
txt(48, 190, "średni", GREEN)
link([(71, 179), (139, 179)], GREEN)
link([(80, 190), (147, 190)], GREEN)
txt(5, 201, "Śnieg:", BLUE)
txt(48, 201, "max", BLUE)
txt(48, 212, "średni", BLUE)
link([(70, 202), (112, 202)], BLUE)
link([(130, 202), (160, 171)], BLUE)
link([(82, 212), (128, 212), (160, 180)], BLUE)
txt(4, 224, "Wystąpienie opadu", RED)
txt(4, 237, "konwekcyjnego", RED)
link([(97, 224), (143, 224), (146, 220)], RED)
txt(4, 263, "Ciśnienie")
txt(4, 276, "zredukowane")
txt(4, 289, "do poziomu morza")
link([(52, 264), (134, 264)], "black")
txt(4, 318, "Wiatr na 10m:")
txt(9, 334, "poryw powyżej skali", RED)
link([(110, 334), (118, 334)], RED)
link([(130, 334), (138, 317)], RED)
txt(9, 348, "max porywy wiatru", RED)
link([(108, 348), (130, 348), (145, 340)], RED)
txt(9, 368, "prędkość wiatru", NAVY)
txt(9, 381, "w środku obszaru", NAVY)
link([(92, 367), (135, 367)], NAVY)
txt(9, 409, "kierunek wiatru", NAVY)
link([(86, 410), (140, 410)], NAVY)
txt(5, 429, "Wierzchołek chmur", BROWN)
link([(100, 430), (133, 430), (183, 447)], BROWN)
txt(5, 444, "Podstawa chmur*")
txt(5, 455, "o pokryciu")
txt(10, 468, "> 7.9 okt.")
link([(57, 468), (140, 468), (192, 456)], "black")
txt(10, 479, "> 6.5 okt.", "#505050")
link([(57, 480), (143, 480)], "#505050")
txt(10, 490, "> 4.5 okt.", "#9a9a9a")
link([(55, 491), (130, 491), (143, 503)], "#9a9a9a")
txt(10, 501, "> 2.5 okt.", "#dddddd")
link([(55, 501), (130, 501), (139, 507)], "#cccccc")
txt(10, 511, "> 0.1 okt.", "white", bg=CLOUD_BG)
link([(55, 510), (135, 510)], CLOUD_BG)
link([(55, 512), (135, 512)], CLOUD_BG)
txt(5, 526, "Widzialność", "#ff8c00")
link([(67, 527), (129, 527), (172, 465)], "#ff8c00")
txt(5, 543, "Chmury:")
txt(9, 556, "wysokie", "white", bg=CLOUD_BG)
link([(54, 556), (186, 556)], CLOUD_BG)
link([(54, 558), (186, 558)], CLOUD_BG)
txt(9, 569, "średnie", "#a0a0a0")
link([(49, 571), (193, 571)], "#909090")
txt(9, 581, "niskie", "#404040")
link([(40, 582), (122, 582)], "#404040")
txt(9, 594, "bardzo niskie", "#404040")
link([(74, 594), (140, 594)], "#404040")
txt(5, 605, "Mgła", "#ffb400")
link([(27, 606), (215, 606), (219, 600)], "#ffb400")
txt(5, 622, "Czas uniwersalny (UTC)", size=12)
link([(139, 623), (148, 623), (157, 609)], "black")
txt(4, 648, "<b>* powyżej poziomu morza</b>", size=9)

fig.update_layout(width=910, height=660, margin=dict(l=0, r=0, t=0, b=0, autoexpand=False), showlegend=False,
                  paper_bgcolor="white", plot_bgcolor="rgba(0,0,0,0)", barmode="overlay",
                  shapes=shapes, annotations=notes, **layout)

fig.write_html("out.html", config={"displayModeBar": False},
               post_script="document.body.style.margin='0';")
